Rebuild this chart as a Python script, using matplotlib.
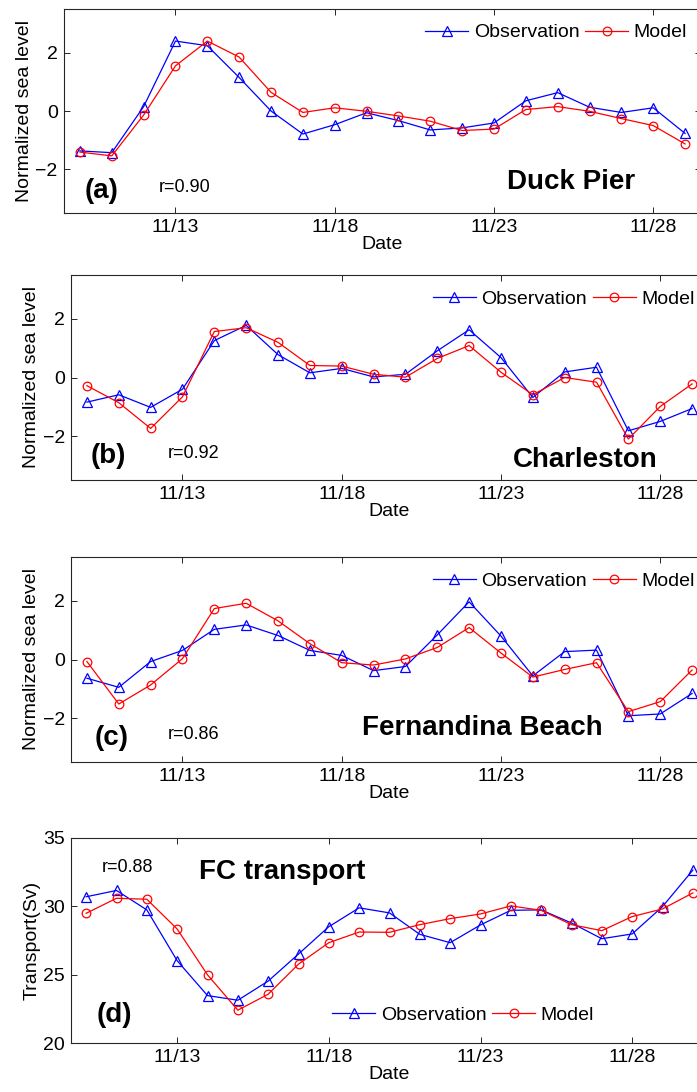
import matplotlib
matplotlib.use("Agg")
import matplotlib.pyplot as plt

plt.rcParams['font.family'] = ['Liberation Sans', 'DejaVu Sans']
plt.rcParams['font.size'] = 14

# days of November 2014 (sea level: 11/10-11/29, transport: 11/10-11/30)
days_sl = [10, 11, 12, 13, 14, 15, 16, 17, 18, 19,
           20, 21, 22, 23, 24, 25, 26, 27, 28, 29]
days_fc = days_sl + [30]

tick_days = [13, 18, 23, 28]
tick_labels = ['11/13', '11/18', '11/23', '11/28']

# (a) Duck Pier
duck_obs = [-1.37, -1.43, 0.15, 2.40, 2.24, 1.15, 0.00, -0.79, -0.47, -0.06,
            -0.33, -0.65, -0.58, -0.41, 0.35, 0.63, 0.13, -0.05, 0.11, -0.77]
duck_mod = [-1.41, -1.54, -0.14, 1.55, 2.40, 1.85, 0.64, -0.05, 0.11, -0.01,
            -0.17, -0.35, -0.67, -0.62, 0.05, 0.15, -0.01, -0.26, -0.50, -1.13]

# (b) Charleston
char_obs = [-0.84, -0.59, -1.02, -0.40, 1.26, 1.78, 0.78, 0.16, 0.31, 0.02,
            0.11, 0.91, 1.63, 0.68, -0.68, 0.19, 0.35, -1.82, -1.50, -1.06]
char_mod = [-0.28, -0.86, -1.74, -0.66, 1.57, 1.70, 1.20, 0.41, 0.39, 0.11,
            0.01, 0.65, 1.09, 0.18, -0.59, 0.00, -0.16, -2.10, -0.99, -0.22]

# (c) Fernandina Beach
fern_obs = [-0.64, -0.95, -0.07, 0.31, 1.03, 1.18, 0.82, 0.31, 0.14, -0.38,
            -0.24, 0.84, 1.97, 0.80, -0.56, 0.27, 0.32, -1.92, -1.86, -1.16]
fern_mod = [-0.07, -1.52, -0.87, 0.03, 1.74, 1.92, 1.32, 0.54, -0.11, -0.19,
            0.02, 0.41, 1.09, 0.22, -0.60, -0.34, -0.11, -1.78, -1.44, -0.36]

# (d) Florida Current transport (Sv)
fc_obs = [30.70, 31.16, 29.74, 26.02, 23.47, 23.13, 24.53, 26.51, 28.51, 29.89,
          29.52, 27.95, 27.34, 28.64, 29.71, 29.74, 28.78, 27.63, 27.98, 29.98, 32.65]
fc_mod = [29.49, 30.59, 30.52, 28.34, 24.99, 22.40, 23.57, 25.77, 27.34, 28.12,
          28.10, 28.66, 29.10, 29.44, 30.03, 29.71, 28.66, 28.22, 29.25, 29.81, 30.98]

fig = plt.figure(figsize=(6.97, 10.92), dpi=100)

W, H = 697.0, 1092.0
panels = [
    # left px, bottom px, days, obs, model, letter, r, name, text positions, legend pos
    dict(left=64, bottom=213, height=204, days=days_sl, obs=duck_obs, mod=duck_mod,
         letter='(a)', r='r=0.90', name='Duck Pier',
         letter_xy=(0.033, 0.072), r_xy=(0.149, 0.104), name_xy=(0.695, 0.118),
         leg_xy=(0.567, 0.884), ylim=(-3.5, 3.5), yticks=[-2, 0, 2],
         xlim=(9.5, 29.5), ylabel='Normalized sea level'),
    dict(left=71, bottom=480, height=205, days=days_sl, obs=char_obs, mod=char_mod,
         letter='(b)', r='r=0.92', name='Charleston',
         letter_xy=(0.031, 0.083), r_xy=(0.152, 0.109), name_xy=(0.694, 0.065),
         leg_xy=(0.568, 0.881), ylim=(-3.5, 3.5), yticks=[-2, 0, 2],
         xlim=(9.5, 29.5), ylabel='Normalized sea level'),
    dict(left=71, bottom=762, height=205, days=days_sl, obs=fern_obs, mod=fern_mod,
         letter='(c)', r='r=0.86', name='Fernandina Beach',
         letter_xy=(0.037, 0.083), r_xy=(0.152, 0.112), name_xy=(0.457, 0.132),
         leg_xy=(0.568, 0.883), ylim=(-3.5, 3.5), yticks=[-2, 0, 2],
         xlim=(9.5, 29.5), ylabel='Normalized sea level'),
    dict(left=71, bottom=1043, height=205, days=days_fc, obs=fc_obs, mod=fc_mod,
         letter='(d)', r='r=0.88', name='FC transport',
         letter_xy=(0.040, 0.104), r_xy=(0.048, 0.833), name_xy=(0.201, 0.799),
         leg_xy=(0.410, 0.137), ylim=(20, 35), yticks=[20, 25, 30, 35],
         xlim=(9.5, 30.5), ylabel='Transport(Sv)'),
]

axis_col = '#262626'

for p in panels:
    ax = fig.add_axes([p['left'] / W, 1 - p['bottom'] / H, 637 / W, p['height'] / H])
    ax.plot(p['days'], p['obs'], color='blue', lw=0.9, marker='^', ms=7,
            mfc='none', mec='blue', mew=0.9, label='Observation')
    ax.plot(p['days'], p['mod'], color='red', lw=0.9, marker='o', ms=6.2,
            mfc='none', mec='red', mew=0.9, label='Model')

    ax.set_xlim(*p['xlim'])
    ax.set_ylim(*p['ylim'])
    ax.set_xticks(tick_days)
    ax.set_xticklabels(tick_labels)
    ax.set_yticks(p['yticks'])
    ax.tick_params(direction='in', length=4.5, width=0.7, top=True, right=True,
                   labelsize=14, pad=4.5, colors='black')
    ax.tick_params(color=axis_col)
    for s in ax.spines.values():
        s.set_color(axis_col)
        s.set_linewidth(0.8)

    ax.set_xlabel('Date', fontsize=14, labelpad=0)
    ax.set_ylabel(p['ylabel'], fontsize=14, labelpad=2)

    ax.text(p['letter_xy'][0], p['letter_xy'][1], p['letter'], transform=ax.transAxes,
            fontsize=20, fontweight='bold', ha='left', va='baseline')
    ax.text(p['r_xy'][0], p['r_xy'][1], p['r'], transform=ax.transAxes,
            fontsize=13, ha='left', va='baseline')
    ax.text(p['name_xy'][0], p['name_xy'][1], p['name'], transform=ax.transAxes,
            fontsize=20, fontweight='bold', ha='left', va='baseline')

    ax.legend(loc='center left', bbox_to_anchor=p['leg_xy'], ncol=2, frameon=False,
              fontsize=14, borderpad=0, borderaxespad=0, handlelength=2.2,
              handletextpad=0.3, columnspacing=0.3, numpoints=1)

fig.savefig('out.png', dpi=100)
